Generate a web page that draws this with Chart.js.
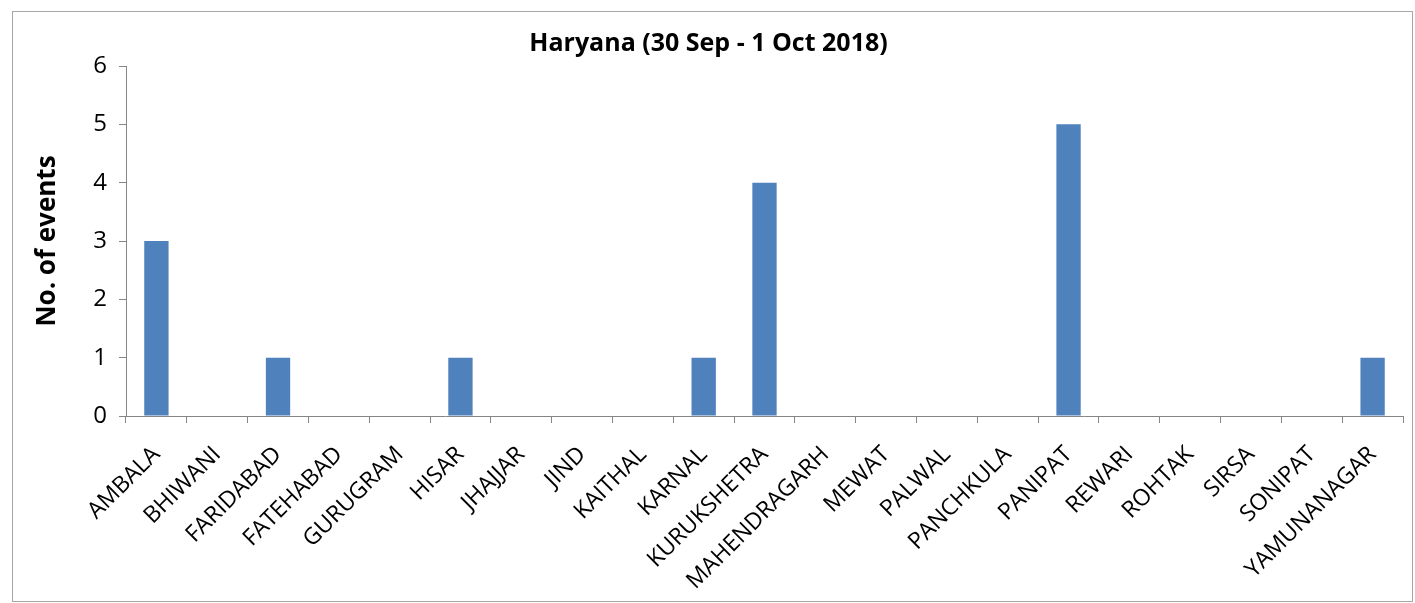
<!DOCTYPE html>
<html lang="en">
<head>
<meta charset="UTF-8">
<title>Haryana events</title>
<script src="https://cdn.jsdelivr.net/npm/chart.js"></script>
<style>
  html, body { margin: 0; padding: 0; background: #fff; }
  #wrap { width: 1415px; height: 603px; position: relative; }
</style>
</head>
<body>
<div id="wrap"><canvas id="myChart" width="1415" height="603"></canvas></div>
<script>
const districts = ['AMBALA', 'BHIWANI', 'FARIDABAD', 'FATEHABAD', 'GURUGRAM', 'HISAR', 'JHAJJAR', 'JIND', 'KAITHAL', 'KARNAL',
    'KURUKSHETRA', 'MAHENDRAGARH', 'MEWAT', 'PALWAL', 'PANCHKULA', 'PANIPAT', 'REWARI', 'ROHTAK', 'SIRSA', 'SONIPAT', 'YAMUNANAGAR'];
const events = [3, 0, 1, 0, 0, 1, 0, 0, 0, 1, 4, 0, 0, 0, 0, 5, 0, 0, 0, 0, 1];
const yTicks = [0, 1, 2, 3, 4, 5, 6];

const fontFam = '"Open Sans", sans-serif';
const axisGray = '#868686';

// outer frame like the original chart box
const framePlugin = {
    id: 'frame',
    beforeDraw(chart) {
        const c = chart.ctx;
        c.save();
        c.fillStyle = '#fff';
        c.fillRect(0, 0, chart.width, chart.height);
        c.strokeStyle = '#a6a6a6';
        c.lineWidth = 1;
        c.strokeRect(12.5, 11.5, 1400, 590);
        c.restore();
    }
};

const ctx = document.getElementById('myChart').getContext('2d');
const myChart = new Chart(ctx, {
    type: 'bar',
    data: {
        labels: districts,
        datasets: [{
            label: 'No. of events',
            data: events,
            backgroundColor: '#4F81BD',
            borderWidth: 0,
            categoryPercentage: 1,
            barPercentage: 0.4
        }]
    },
    options: {
        responsive: false,
        animation: false,
        layout: { padding: { left: 14, right: 12, top: 0, bottom: 0 } },
        plugins: {
            legend: { display: false },
            tooltip: { enabled: false },
            title: {
                display: true,
                text: 'Haryana (30 Sep - 1 Oct 2018)',
                color: '#000',
                font: { family: fontFam, size: 25, weight: 'bold', lineHeight: 1.2 },
                padding: { top: 29, bottom: 7 }
            }
        },
        scales: {
            x: {
                grid: { drawOnChartArea: false, color: axisGray, tickLength: 7, offset: true },
                border: { color: axisGray },
                ticks: {
                    color: '#000',
                    font: { family: fontFam, size: 23 },
                    minRotation: 45,
                    maxRotation: 45,
                    autoSkip: false,
                    padding: 18
                },
                afterFit(scale) { scale.height = 187; }
            },
            y: {
                min: 0,
                max: 6,
                afterBuildTicks(scale) { scale.ticks = yTicks.map(v => ({ value: v })); },
                grid: { drawOnChartArea: false, color: axisGray, tickLength: 7 },
                border: { color: axisGray },
                ticks: {
                    color: '#000',
                    font: { family: fontFam, size: 24 },
                    padding: 12
                },
                title: {
                    display: true,
                    text: 'No. of events',
                    color: '#000',
                    font: { family: fontFam, size: 26, weight: 'bold', lineHeight: 1.2 },
                    padding: { top: 18, bottom: 0 }
                },
                afterFit(scale) { scale.width = 112; }
            }
        }
    },
    plugins: [framePlugin]
});
</script>
</body>
</html>
